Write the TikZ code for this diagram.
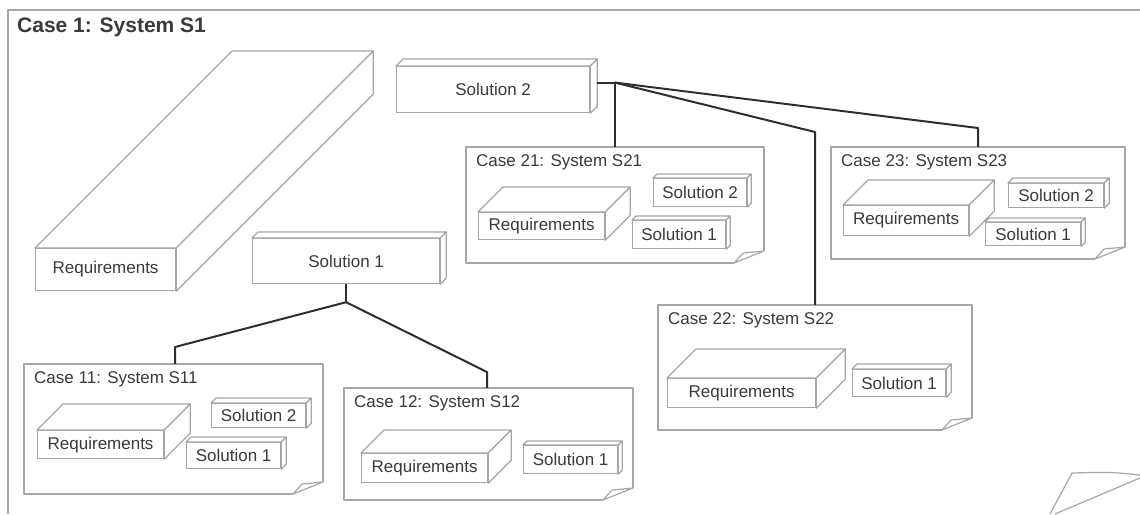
\documentclass[tikz,border=0pt]{standalone}
\usepackage{fontspec}
\setmainfont{Liberation Sans}
\usetikzlibrary{calc,fit}
\definecolor{edgegray}{HTML}{A6A6A6}
\definecolor{txt}{HTML}{3A3A3A}
\definecolor{conncol}{HTML}{2E2E2E}
\tikzset{
  face/.style={draw=edgegray, fill=white, line width=1.2pt, line join=round},
  front/.style={face, inner sep=0pt, anchor=north west, text=txt, font=\fontsize{17}{20}\selectfont},
  casetitle/.style={anchor=west, inner sep=0pt, text=txt, font=\fontsize{17}{20}\selectfont},
  conn/.style={draw=conncol, line width=2pt, line join=round},
  frame/.style={draw=edgegray, line width=1.2pt, line join=round}
}
% name, x, y (front top-left), w, h, depth, text
\newcommand\cubebox[7]{%
  \node[front, minimum width=#4pt, minimum height=#5pt] (#1) at (#2,#3) {#7};
  \path[face] (#1.north west) -- ++(#6,-#6) -- ($(#1.north east)+(#6,-#6)$) -- (#1.north east) -- cycle;
  \path[face] (#1.north east) -- ++(#6,-#6) -- ($(#1.south east)+(#6,-#6)$) -- (#1.south east) -- cycle;
}
% name, x1, y1, x2, y2, title
\newcommand\casebox[6]{%
  \node[fit={(#2,#3) (#4,#5)}, inner sep=0pt] (#1) {};
  \draw[frame] (#4,#5-12) -- (#4,#3) -- (#2,#3) -- (#2,#5) -- (#4-30,#5);
  \draw[frame] (#4-30,#5) -- (#4-21,#5-10) -- (#4,#5-12) -- cycle;
  \node[casetitle] (#1-t) at (#2+10,#3+15) {#6};
}
\begin{document}
\begin{tikzpicture}[x=1pt,y=-1pt]
\useasboundingbox (0,0) rectangle (1140,514);

% outer frame
\draw[frame] (8,514) -- (8,10) -- (1140,10);
\draw[frame] (1140,475) .. controls (1110,472) .. (1072,473) -- (1050,514);
\draw[frame] (1140,478) -- (1055,514);
\node[anchor=west, inner sep=0pt, text=txt, font=\bfseries\fontsize{21}{24}\selectfont] (title) at (17,27) {Case 1: System S1};

% top-level boxes
\cubebox{req}{35}{248}{140}{42}{197}{Requirements}
\cubebox{sol2}{396}{66}{193}{46}{7}{Solution 2}
\cubebox{sol1}{252}{238}{187}{45}{6}{Solution 1}

% Case 11
\casebox{c11}{24}{364}{323}{494}{Case 11: System S11}
\cubebox{c11req}{37}{430}{126}{28}{26}{Requirements}
\cubebox{c11s2}{211}{403}{94}{24}{5}{Solution 2}
\cubebox{c11s1}{186}{442}{94}{26}{5}{Solution 1}

% Case 12
\casebox{c12}{344}{388}{633}{500}{Case 12: System S12}
\cubebox{c12req}{361}{453}{126}{29}{23}{Requirements}
\cubebox{c12s1}{523}{445}{94}{28}{4}{Solution 1}

% Case 21
\casebox{c21}{466}{147}{764}{263}{Case 21: System S21}
\cubebox{c21req}{478}{212}{126}{27}{25}{Requirements}
\cubebox{c21s2}{653}{178}{93}{28}{4}{Solution 2}
\cubebox{c21s1}{632}{220}{93}{28}{4}{Solution 1}

% Case 22
\casebox{c22}{658}{305}{972}{430}{Case 22: System S22}
\cubebox{c22req}{667}{378}{148}{29}{29}{Requirements}
\cubebox{c22s1}{852}{369}{93}{27}{5}{Solution 1}

% Case 23
\casebox{c23}{831}{147}{1125}{259}{Case 23: System S23}
\cubebox{c23req}{843}{205}{125}{30}{25}{Requirements}
\cubebox{c23s2}{1008}{183}{95}{24}{5}{Solution 2}
\cubebox{c23s1}{985}{222}{95}{23}{4}{Solution 1}

% connectors from Solution 1
\coordinate (j1) at ($(sol1.south)+(0,18)$);
\coordinate (b11) at (175,347);
\coordinate (b12) at (487,372);
\draw[conn] (sol1.south) -- (j1);
\draw[conn] (j1) -- (b11) -- (b11 |- c11.north);
\draw[conn] (j1) -- (b12) -- (b12 |- c12.north);

% connectors from Solution 2
\coordinate (s2e) at ($(sol2.east)+(7,-7)$);
\coordinate (j2) at (615,82);
\coordinate (b22) at (815,132);
\coordinate (b23) at (978,128);
\draw[conn] (s2e) -- (j2 |- s2e);
\draw[conn] (j2 |- s2e) -- (j2 |- c21.north);
\draw[conn] (j2 |- s2e) -- (b22) -- (b22 |- c22.north);
\draw[conn] (j2 |- s2e) -- (b23) -- (b23 |- c23.north);
\end{tikzpicture}
\end{document}
